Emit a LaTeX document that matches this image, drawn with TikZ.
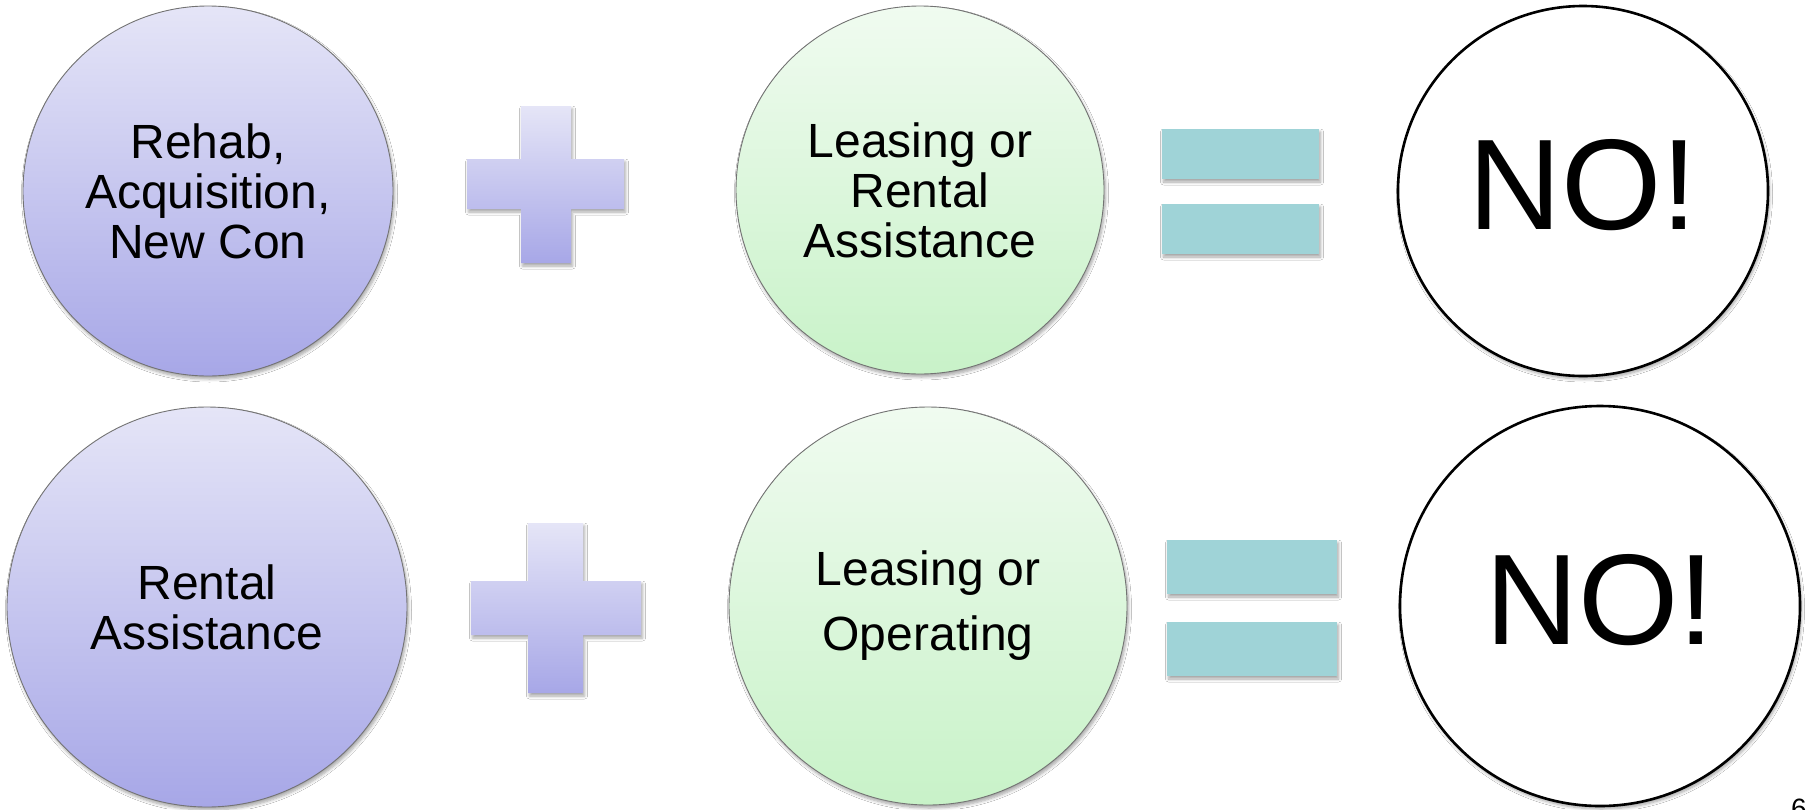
\documentclass[tikz,border=0pt]{standalone}
\usepackage{fontspec}
\setmainfont{Liberation Sans}
\usetikzlibrary{shadows.blur,calc}
\definecolor{purpT}{RGB}{229,229,247}
\definecolor{purpB}{RGB}{167,167,231}
\definecolor{grnT}{RGB}{240,251,240}
\definecolor{grnB}{RGB}{200,242,200}
\definecolor{eqteal}{RGB}{159,211,215}
\definecolor{rimgray}{RGB}{115,115,115}
\tikzset{
  shd/.style={blur shadow={shadow xshift=1.5pt, shadow yshift=-3pt, shadow blur radius=3pt, shadow opacity=35, shadow blur steps=6}},
  ball/.style={circle, draw=rimgray, line width=0.9pt, inner sep=0pt, align=center, font=\fontsize{48}{50}\selectfont, shd},
  purpleball/.style={ball, top color=purpT, bottom color=purpB},
  greenball/.style={ball, top color=grnT, bottom color=grnB},
  noball/.style={circle, draw=black, line width=2.6pt, fill=white, inner sep=0pt, shd},
  notext/.style={font=\fontsize{129}{130}\selectfont, inner sep=0pt},
  plusshape/.style={top color=purpT, bottom color=purpB, shd},
  eqbar/.style={fill=eqteal, shd}
}
\begin{document}
\begin{tikzpicture}[x=1pt,y=-1pt]
\useasboundingbox (0,0) rectangle (1807,809);
\clip (0,0) rectangle (1807,809);
\fill[white] (0,0) rectangle (1807,809);

% top row
\node[purpleball, minimum size=370pt] (a1) at (208,191) {Rehab,\\Acquisition,\\New Con};
\path[plusshape] (521,106) -- (571,106) -- (571,159) -- (624,159) -- (624,209) -- (571,209)
  -- (571,263) -- (521,263) -- (521,209) -- (467,209) -- (467,159) -- (521,159) -- cycle;
\node[greenball, minimum size=368pt] (b1) at (920,190) {Leasing or\\Rental\\Assistance};
\path[eqbar] (1162,129) rectangle (1319,179);
\path[eqbar] (1162,204) rectangle (1319,254);
\node[noball, minimum size=370pt] (c1) at (1583,191) {};
\node[notext] (c1t) at ($(c1.center)+(0,-6)$) {NO!};

% bottom row
\node[purpleball, minimum size=400pt] (a2) at (207,607) {Rental\\Assistance};
\path[plusshape] (528,523) -- (583,523) -- (583,581) -- (641,581) -- (641,635) -- (583,635)
  -- (583,693) -- (528,693) -- (528,635) -- (471,635) -- (471,581) -- (528,581) -- cycle;
\node[greenball, minimum size=398pt, font=\fontsize{48}{65}\selectfont] (b2) at (928,606) {Leasing or\\Operating};
\path[eqbar] (1167,540) rectangle (1337,594);
\path[eqbar] (1167,622) rectangle (1337,676);
\node[noball, minimum size=400pt] (c2) at (1600,606) {};
\node[notext] (c2t) at ($(c2.center)+(0,-6)$) {NO!};

% page number (cut off)
\node[anchor=north west, inner sep=0pt, font=\fontsize{28}{30}\selectfont] (pg) at (1791,799) {6};
\end{tikzpicture}
\end{document}
